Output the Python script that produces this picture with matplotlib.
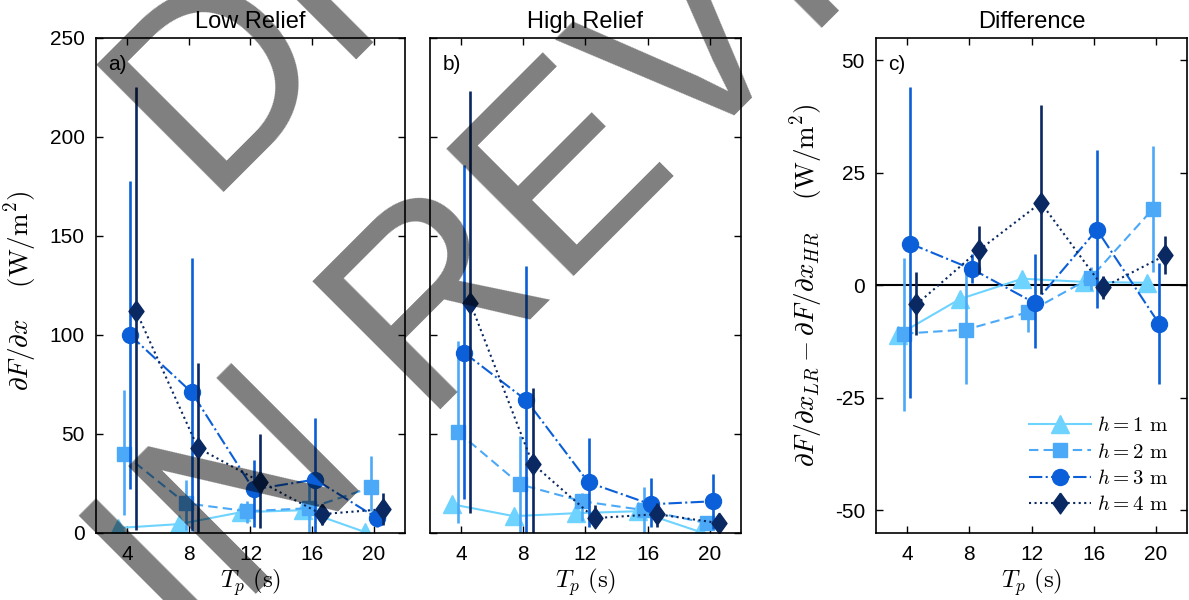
import numpy as np
import matplotlib.pyplot as plt

plt.rcParams['font.family'] = ['Liberation Sans', 'DejaVu Sans']
plt.rcParams['mathtext.fontset'] = 'cm'
plt.rcParams['axes.unicode_minus'] = False

# peak periods (s) and wave heights
Tp = np.array([4, 8, 12, 16, 20])
heights = [1, 2, 3, 4]

# low relief: dF/dx mean, lower and upper bounds (W/m^2)
lr_mean = [[2.5, 4.5, 10.5, 11.5, 0.5],
           [40, 15, 11, 12.5, 23],
           [100, 71, 22, 27, 7.5],
           [112, 43, 26, 9.5, 12]]
lr_lo = [[1.5, 3.5, 9.5, 10.5, 0],
         [9, 1.5, 5, 0, 11],
         [22, 1, 3, 0, 3],
         [1.5, 0.5, 2.5, 4, 4]]
lr_hi = [[3.5, 5.5, 11.5, 12.5, 1.5],
         [72, 27, 16, 26, 39],
         [178, 139, 37, 58, 12],
         [225, 86, 50, 14, 20]]

# high relief
hr_mean = [[14.5, 8.5, 10, 11, 0.5],
           [51, 24.5, 16, 11.5, 5],
           [91, 67, 25.5, 14.5, 16],
           [116, 35, 7.5, 9.5, 5]]
hr_lo = [[13.5, 7.5, 9, 10, 0],
         [5, 0, 6, 0, 2],
         [17, 0, 3, 3, 2],
         [10, 0, 3, 3, 2.5]]
hr_hi = [[15.5, 9.5, 11, 12, 1.5],
         [97, 49, 20, 23, 8],
         [186, 135, 48, 28, 30],
         [223, 73, 14, 15, 8]]

# difference LR - HR
d_mean = [[-11, -3, 1.5, 0.8, 0.6],
          [-10.7, -9.8, -5.9, 1.7, 17],
          [9.3, 3.6, -3.9, 12.4, -8.5],
          [-4.2, 7.8, 18.4, -0.4, 6.7]]
d_lo = [[-12, -4, 0.5, -0.2, -0.4],
        [-28, -22, -10.4, -1, 3],
        [-25, 0.5, -14, -5, -22],
        [-11, 2.6, -2, -3, 2.6]]
d_hi = [[-10, -2, 2.5, 1.8, 1.6],
        [6, 3, -3, 4, 31],
        [44, 7, 7, 30, 5],
        [3, 13.3, 40, 2, 11]]

colors = ['#6fd3ff', '#4ca9f7', '#0b5fd8', '#0a2861']
diamond = [(0, 1), (0.72, 0), (0, -1), (-0.72, 0), (0, 1)]
markers = ['^', 's', 'o', diamond]
msizes = [13, 10, 11.5, 15]
styles = ['-', (0, (4.5, 2.5)), '-.', ':']
shift = [-0.6, -0.2, 0.2, 0.6]


def draw(ax, mean, lo, hi):
    for i in range(4):
        x = Tp + shift[i]
        y = np.array(mean[i])
        err = [y - np.array(lo[i]), np.array(hi[i]) - y]
        ax.errorbar(x, y, yerr=err, fmt='none', ecolor=colors[i],
                    elinewidth=1.9, capsize=0)
        ax.plot(x, y, color=colors[i], ls=styles[i], lw=1.5,
                marker=markers[i], ms=msizes[i], mfc=colors[i], mec=colors[i],
                label=r'$h = %d\ \mathrm{m}$' % heights[i])
    ax.set_xlim(2, 22)
    ax.set_xticks(Tp)
    ax.tick_params(direction='in', top=True, right=True, length=5,
                   width=1, labelsize=15, pad=8)
    ax.tick_params(axis='x', pad=9)
    for s in ax.spines.values():
        s.set_linewidth(1.2)
    ax.set_xlabel(r'$T_p\ \mathrm{(s)}$', fontsize=18, labelpad=1)


fig = plt.figure(figsize=(11.89, 6), dpi=100)
axa = fig.add_axes([0.0807, 0.1117, 0.2599, 0.825])
axb = fig.add_axes([0.3617, 0.1117, 0.2613, 0.825])
axc = fig.add_axes([0.7368, 0.1117, 0.2616, 0.825])

# a) low relief
draw(axa, lr_mean, lr_lo, lr_hi)
axa.set_ylim(0, 250)
axa.set_yticks([0, 50, 100, 150, 200, 250])
axa.set_title('Low Relief', fontsize=17, pad=7)
axa.set_ylabel(r'$\partial F/\partial x\quad\ (\mathrm{W/m^2})$', fontsize=19.5)
axa.yaxis.set_label_coords(-0.18, 0.49)
axa.text(0.04, 0.965, 'a)', transform=axa.transAxes, fontsize=15, va='top')

# b) high relief
draw(axb, hr_mean, hr_lo, hr_hi)
axb.set_ylim(0, 250)
axb.set_yticks([0, 50, 100, 150, 200, 250])
axb.tick_params(labelleft=False)
axb.set_title('High Relief', fontsize=17, pad=7)
axb.text(0.04, 0.965, 'b)', transform=axb.transAxes, fontsize=15, va='top')

# c) difference
axc.axhline(0, color='k', lw=1.5, zorder=1)
draw(axc, d_mean, d_lo, d_hi)
axc.set_ylim(-55, 55)
axc.set_yticks([-50, -25, 0, 25, 50])
axc.set_title('Difference', fontsize=17, pad=7)
axc.set_ylabel(r'$\partial F/\partial x_{LR} - \partial F/\partial x_{HR}\quad\ (\mathrm{W/m^2})$',
               fontsize=19.5, labelpad=6)
axc.text(0.04, 0.965, 'c)', transform=axc.transAxes, fontsize=15, va='top')
axc.legend(loc='lower right', frameon=False, fontsize=15, handlelength=3.0,
           handletextpad=0.3, labelspacing=0.35, borderaxespad=0.5)

# watermark
wm = dict(fontsize=188, rotation=45, rotation_mode='anchor', ha='left',
          va='baseline', color='black', alpha=0.5, family='Liberation Sans',
          zorder=10)
fig.text(202 / 1189, 1 - 192 / 600, 'DRAFT', **wm)
fig.text(190 / 1189, 1 - 660 / 600, 'IN REVIEW', **wm)

fig.savefig('out.png', dpi=100)
